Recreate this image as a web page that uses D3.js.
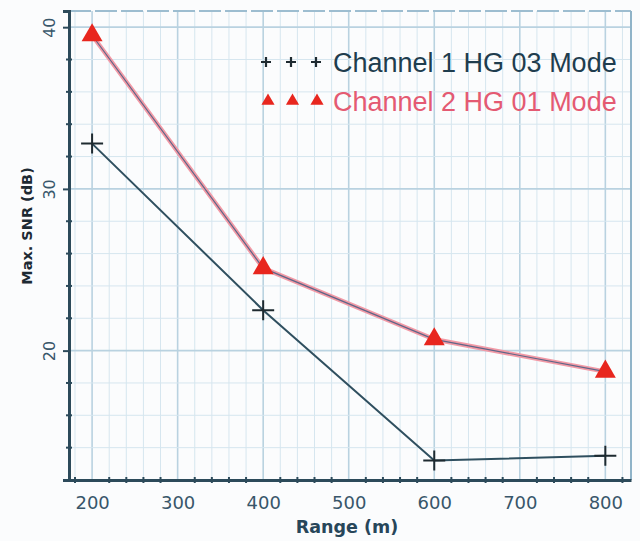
<!DOCTYPE html>
<html>
<head>
<meta charset="utf-8">
<script src="https://d3js.org/d3.v7.min.js"></script>
<style>
 body { margin: 0; background: #fbfcfd; }
 svg { display: block; font-family: "DejaVu Sans", sans-serif; }
</style>
</head>
<body>
<script>

 /* Data */
 var ranges = [200, 400, 600, 800];
 var channel1 = [32.8, 22.5, 13.2, 13.5];
 var channel2 = [39.5, 25.1, 20.7, 18.7];
 var seriesNames = ["Channel 1 HG 03 Mode", "Channel 2 HG 01 Mode"];
 var xTicks = [200, 300, 400, 500, 600, 700, 800];
 var yTicks = [20, 30, 40];

 /* Display Settings */
 var width = 640, height = 541;
 var margin = {top: 11, right: 9, bottom: 61, left: 69};
 var plotW = width - margin.left - margin.right;
 var plotH = height - margin.top - margin.bottom;

 var axisColor = "#2c4a5a";
 var gridColor = "#d6e6ef";

 var svg = d3.select("body").append("svg")
	 .attr("width", width)
	 .attr("height", height);

 var g = svg.append("g")
	 .attr("transform", "translate(" + margin.left + "," + margin.top + ")");

 var x = d3.scaleLinear().domain([173, 830]).range([0, plotW]);
 var y = d3.scaleLinear().domain([12, 41]).range([plotH, 0]);

 // minor grid every 20 m / 2 dB
 var xMinor = d3.range(180, 830, 20);
 var yMinor = d3.range(12, 41.01, 2);

 g.selectAll(".vgrid").data(xMinor).enter().append("line")
	 .attr("x1", function(d){ return x(d); })
	 .attr("x2", function(d){ return x(d); })
	 .attr("y1", 0).attr("y2", plotH)
	 .attr("stroke", function(d){ return d % 100 == 0 ? "#b9d2e0" : gridColor; })
	 .attr("stroke-width", function(d){ return d % 100 == 0 ? 1.6 : 1; });

 g.selectAll(".hgrid").data(yMinor).enter().append("line")
	 .attr("x1", 0).attr("x2", plotW)
	 .attr("y1", function(d){ return y(d); })
	 .attr("y2", function(d){ return y(d); })
	 .attr("stroke", function(d){ return d % 10 == 0 ? "#b9d2e0" : gridColor; })
	 .attr("stroke-width", function(d){ return d % 10 == 0 ? 1.6 : 1; });

 // top dashed border and right border
 g.append("line")
	 .attr("x1", 0).attr("x2", plotW).attr("y1", 0).attr("y2", 0)
	 .attr("stroke", "#9dbdd0").attr("stroke-width", 2)
	 .attr("stroke-dasharray", "22,4");
 g.append("line")
	 .attr("x1", plotW).attr("x2", plotW).attr("y1", 0).attr("y2", plotH)
	 .attr("stroke", "#8fb3c8").attr("stroke-width", 2);

 // axes
 var xAxis = g.append("g")
	 .attr("transform", "translate(0," + plotH + ")")
	 .call(d3.axisBottom(x).tickValues(xTicks).tickSize(0).tickPadding(16));
 var yAxis = g.append("g")
	 .call(d3.axisLeft(y).tickValues(yTicks).tickSize(6).tickPadding(8));

 [xAxis, yAxis].forEach(function(a){
	 a.select(".domain").attr("stroke", axisColor).attr("stroke-width", 3);
	 a.selectAll("line").attr("stroke", axisColor).attr("stroke-width", 2);
	 a.selectAll("text").attr("fill", "#38566a").style("font-family", "DejaVu Sans");
 });
 xAxis.selectAll("text").style("font-size", "18px");
 yAxis.selectAll("text").style("font-size", "16px");

 yAxis.selectAll(".tick text")
	 .attr("transform", "rotate(-90)")
	 .attr("x", 0).attr("y", -19)
	 .attr("text-anchor", "middle");

 // minor tick dots on axes
 g.selectAll(".xmt").data(xMinor.filter(function(d){ return d % 100 != 0; })).enter().append("line")
	 .attr("x1", function(d){ return x(d); }).attr("x2", function(d){ return x(d); })
	 .attr("y1", plotH - 3).attr("y2", plotH + 3)
	 .attr("stroke", axisColor).attr("stroke-width", 2);
 g.selectAll(".ymt").data(yMinor.filter(function(d){ return d % 10 != 0; })).enter().append("line")
	 .attr("x1", -3).attr("x2", 3)
	 .attr("y1", function(d){ return y(d); }).attr("y2", function(d){ return y(d); })
	 .attr("stroke", axisColor).attr("stroke-width", 2);

 // axis titles
 svg.append("text")
	 .attr("x", margin.left + plotW / 2 - 3).attr("y", 533)
	 .attr("text-anchor", "middle")
	 .style("font-size", "17.5px").style("font-weight", "bold")
	 .attr("fill", "#27465a")
	 .text("Range (m)");
 svg.append("text")
	 .attr("transform", "translate(32,226) rotate(-90)")
	 .attr("text-anchor", "middle")
	 .style("font-size", "14.5px").style("font-weight", "bold")
	 .attr("fill", "#1d2a33")
	 .text("Max. SNR (dB)");

 var line = d3.line()
	 .x(function(d){ return x(d[0]); })
	 .y(function(d){ return y(d[1]); });

 var pts1 = ranges.map(function(r, i){ return [r, channel1[i]]; });
 var pts2 = ranges.map(function(r, i){ return [r, channel2[i]]; });

 // channel 1 line + crosses
 g.append("path").datum(pts1)
	 .attr("d", line).attr("fill", "none")
	 .attr("stroke", "#2f4f5f").attr("stroke-width", 2);

 g.selectAll(".c1").data(pts1).enter().append("path")
	 .attr("transform", function(d){ return "translate(" + x(d[0]) + "," + y(d[1]) + ")"; })
	 .attr("d", "M-11,0H11M0,-10V10")
	 .attr("stroke", "#1e2a30").attr("stroke-width", 2);

 // channel 2 line (pink with dark core) + triangles
 g.append("path").datum(pts2)
	 .attr("d", line).attr("fill", "none")
	 .attr("stroke", "#f29aa6").attr("stroke-width", 4.5);
 g.append("path").datum(pts2)
	 .attr("d", line).attr("fill", "none")
	 .attr("stroke", "#5e6688").attr("stroke-width", 1.2);

 var tri = d3.symbol().type(d3.symbolTriangle).size(190);
 g.selectAll(".c2").data(pts2).enter().append("path")
	 .attr("transform", function(d){ return "translate(" + x(d[0]) + "," + y(d[1]) + ")"; })
	 .attr("d", tri)
	 .attr("fill", "#e8261e");

 // legend
 var legend = svg.append("g").style("font-family", "'Liberation Sans', Arial, sans-serif");
 [0, 1, 2].forEach(function(k){
	 legend.append("path")
		 .attr("transform", "translate(" + (266 + k * 25) + ",62)")
		 .attr("d", "M-5,0H5M0,-5V5")
		 .attr("stroke", "#1e2a30").attr("stroke-width", 2.2);
	 legend.append("path")
		 .attr("transform", "translate(" + (268 + k * 24.5) + ",101)")
		 .attr("d", d3.symbol().type(d3.symbolTriangle).size(75))
		 .attr("fill", "#e8261e");
 });
 legend.append("text")
	 .attr("x", 333).attr("y", 72)
	 .style("font-size", "27px")
	 .attr("fill", "#1f3d4e")
	 .text(seriesNames[0]);
 legend.append("text")
	 .attr("x", 333).attr("y", 111)
	 .style("font-size", "27px")
	 .attr("fill", "#e45a72")
	 .text(seriesNames[1]);

</script>
</body>
</html>
